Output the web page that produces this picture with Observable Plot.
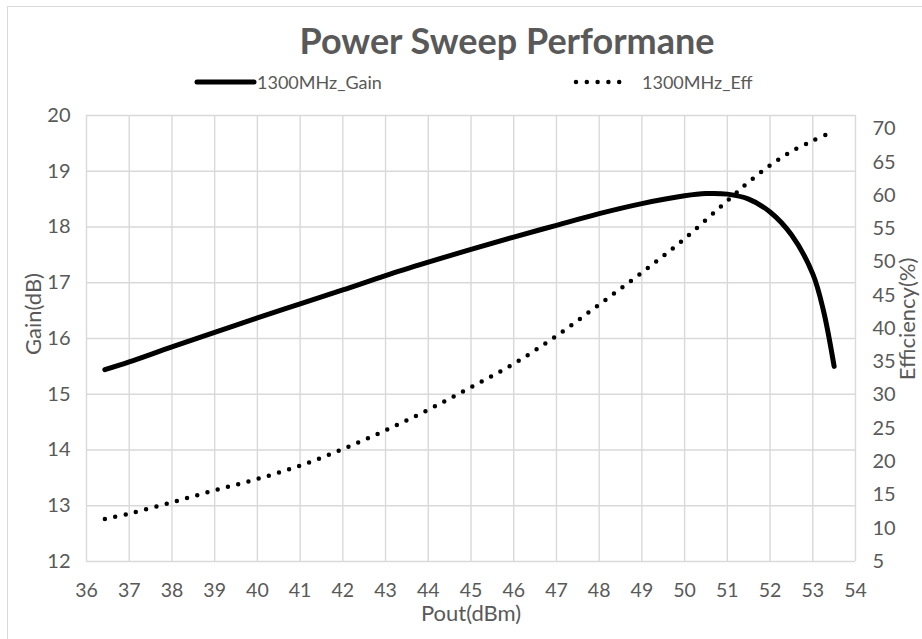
<!DOCTYPE html>
<html>
<head>
<meta charset="utf-8">
<script src="https://cdn.jsdelivr.net/npm/d3@7"></script>
<script src="https://cdn.jsdelivr.net/npm/@observablehq/plot@0.6"></script>
<style>
  body { margin: 0; background: #fff; }
  #wrap { position: relative; width: 922px; height: 639px; overflow: hidden; font-family: Lato, "Open Sans", sans-serif; color: #595959; }
  #frame { position: absolute; left: 7px; top: 6px; width: 1000px; height: 800px; border-left: 1.5px solid #d9d9d9; border-top: 1.5px solid #d9d9d9; }
  #title { position: absolute; left: 0; width: 1014px; top: 18px; text-align: center; font-weight: bold; font-size: 36px; line-height: 44px; white-space: nowrap; }
  .leg { position: absolute; top: 71px; font-size: 18px; line-height: 22px; white-space: nowrap; }
  .atitle { position: absolute; font-size: 22px; line-height: 20px; white-space: nowrap; transform: translate(-50%, -50%); }
  .rot { transform: translate(-50%, -50%) rotate(-90deg); }
  #chart { position: absolute; left: 0; top: 95px; }
  svg.key { position: absolute; }
</style>
</head>
<body>
<div id="wrap">
  <div id="frame"></div>
  <div id="title">Power Sweep Performane</div>
  <svg class="key" style="left:190px;top:74px" width="70" height="16"><line x1="7" y1="8" x2="64" y2="8" stroke="#000" stroke-width="5" stroke-linecap="round"/></svg>
  <div class="leg" id="legGain" style="left:257px">1300MHz_Gain</div>
  <svg class="key" style="left:568px;top:74px" width="60" height="16"><line x1="8" y1="8" x2="52" y2="8" stroke="#000" stroke-width="4.5" stroke-linecap="round" stroke-dasharray="0 10.8"/></svg>
  <div class="leg" id="legEff" style="left:642px">1300MHz_Eff</div>
  <div id="chart"></div>
  <div class="atitle rot" style="left:33px;top:314px">Gain(dB)</div>
  <div class="atitle rot" style="left:907px;top:319px">Efficiency(%)</div>
  <div class="atitle" style="left:471px;top:613px">Pout(dBm)</div>
</div>
<script>
// ---- data ----
const poutGain = [36.43, 37, 38, 39, 40, 41, 42, 43, 44, 45, 46, 47, 48, 49, 50, 50.5, 51, 51.5, 52, 52.5, 53, 53.25, 53.5];
const gainDb   = [15.44, 15.58, 15.85, 16.11, 16.37, 16.62, 16.87, 17.13, 17.37, 17.6, 17.82, 18.03, 18.24, 18.42, 18.56, 18.6, 18.59, 18.5, 18.27, 17.86, 17.16, 16.5, 15.5];
const poutEff  = [36.43, 37, 38, 39, 40, 41, 42, 43, 44, 45, 46, 47, 48, 49, 50, 51, 51.5, 52, 52.5, 53, 53.3];
const effPct   = [11.4, 12.2, 13.9, 15.7, 17.4, 19.4, 21.9, 24.7, 27.8, 31.2, 34.7, 38.9, 43.6, 48.4, 53.5, 59.2, 62.0, 64.5, 66.6, 68.2, 69.1];
const xTicks    = [36, 37, 38, 39, 40, 41, 42, 43, 44, 45, 46, 47, 48, 49, 50, 51, 52, 53, 54];
const gainTicks = [12, 13, 14, 15, 16, 17, 18, 19, 20];
const effTicks  = [5, 10, 15, 20, 25, 30, 35, 40, 45, 50, 55, 60, 65, 70];
const gainDomain = [12, 20];
const effDomain  = [5, 72];

// map efficiency (secondary axis) onto the primary gain scale
const toGain = e => gainDomain[0] + (e - effDomain[0]) * (gainDomain[1] - gainDomain[0]) / (effDomain[1] - effDomain[0]);
const fromGain = g => effDomain[0] + (g - gainDomain[0]) * (effDomain[1] - effDomain[0]) / (gainDomain[1] - gainDomain[0]);

const gainData = poutGain.map((p, i) => ({pout: p, gain: gainDb[i]}));
const effData = poutEff.map((p, i) => ({pout: p, eff: effPct[i]}));

const grid = {stroke: "#d9d9d9", strokeOpacity: 1, strokeWidth: 1.4};
const plot = Plot.plot({
  width: 922,
  height: 544,
  marginLeft: 86,
  marginRight: 67,
  marginTop: 20,
  marginBottom: 78,
  x: {domain: [36, 54]},
  y: {domain: gainDomain},
  style: {fontFamily: "Lato, 'Open Sans', sans-serif", fontSize: "20px", color: "#595959", background: "transparent", overflow: "visible"},
  marks: [
    Plot.gridX(xTicks, grid),
    Plot.gridY(gainTicks, grid),
    Plot.axisX(xTicks, {tickSize: 0, tickPadding: 22, label: null, fontSize: 19.5, tickFormat: d => String(d)}),
    Plot.axisY(gainTicks, {anchor: "left", tickSize: 0, tickPadding: 16, label: null, fontSize: 20, tickFormat: d => String(d)}),
    Plot.axisY(effTicks.map(toGain), {anchor: "right", tickSize: 0, tickPadding: 17, label: null, fontSize: 20,
      tickFormat: d => String(Math.round(fromGain(d)))}),
    Plot.line(effData, {x: "pout", y: d => toGain(d.eff), stroke: "#000", strokeWidth: 4.5,
      strokeDasharray: "0 10.6", strokeLinecap: "round", curve: "catmull-rom"}),
    Plot.line(gainData, {x: "pout", y: "gain", stroke: "#000", strokeWidth: 5, strokeLinecap: "round", curve: "catmull-rom"})
  ]
});
document.getElementById("chart").appendChild(plot);
</script>
</body>
</html>
